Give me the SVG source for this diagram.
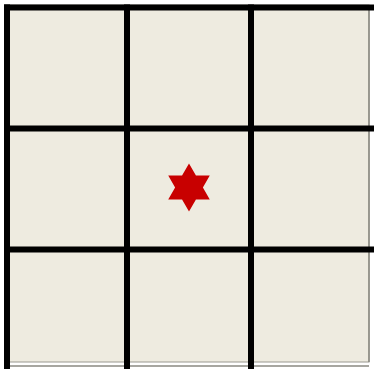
<svg xmlns="http://www.w3.org/2000/svg" width="374" height="369" viewBox="0 0 374 369">
  <style>
    .grid { stroke: #000; stroke-width: 6; fill: none; }
    .cell { fill: #EEEBE0; }
  </style>
  <rect width="374" height="369" fill="#ffffff"/>
  <g id="board">
    <rect class="cell" x="5" y="5" width="364" height="357" stroke="#9a9890" stroke-width="1"/>
    <line x1="369" y1="5" x2="369" y2="362" stroke="#8a8880" stroke-width="1.5"/>
    <line x1="5" y1="366" x2="369" y2="366" stroke="#8a8880" stroke-width="1.5"/>
  </g>
  <g id="grid-lines" class="grid">
    <line x1="4" y1="7.5" x2="374" y2="7.5"/>
    <line x1="4" y1="128.5" x2="374" y2="128.5"/>
    <line x1="4" y1="249.5" x2="374" y2="249.5"/>
    <line x1="7" y1="4.5" x2="7" y2="369"/>
    <line x1="127" y1="4.5" x2="127" y2="369"/>
    <line x1="251" y1="4.5" x2="251" y2="369"/>
  </g>
  <g id="star">
    <polygon fill="#C80000" points="189,163.5 195.95,175.46 209.78,175.5 202.9,187.5 209.78,199.5 195.95,199.54 189,211.5 182.05,199.54 168.22,199.5 175.1,187.5 168.22,175.5 182.05,175.46"/>
  </g>
</svg>
